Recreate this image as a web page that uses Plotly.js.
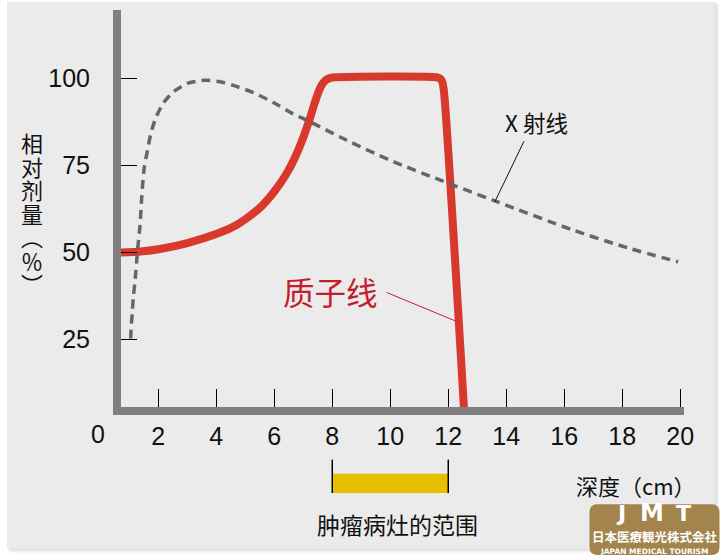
<!DOCTYPE html>
<html><head><meta charset="utf-8">
<script src="https://cdn.plot.ly/plotly-3.0.1.min.js"></script>
<style>html,body{margin:0;padding:0;background:#fff;}#chart{width:723px;height:557px;}</style>
</head><body><div id="chart"></div>
<script>
// ---- data ----
const xTickVals = [2, 4, 6, 8, 10, 12, 14, 16, 18, 20];
const yTickVals = [25, 50, 75, 100];
const xrayDepth = [1.05,1.06,1.10,1.14,1.20,1.29,1.37,1.43,1.52,1.63,1.74,1.91,2.17,2.54,3.03,3.61,4.13,4.64,5.3,6.0,6.6,7.23,8.5,9.99,11.71,13.61,16.31,18.2,19.93];
const xrayDose  = [25.3,27.7,32.5,37.2,42,51.1,57.8,66,74.6,79.4,84,88.5,92.8,96.2,98.6,99.4,99.0,97.8,95.8,92.9,90,87.5,82.2,76.5,70.8,64.8,56.4,51.3,47.3];
const protonDepth = [0.714,1.4,2.06,3.0,4.13,4.7,5.16,5.6,6.02,6.4,6.71,7.0,7.23,7.35,7.45,7.55,7.66,7.8,7.95,8.1,11.6,11.72,11.8,11.86,12.615];
const protonDose  = [50,50.3,51.0,52.7,55.7,57.9,60.5,63.6,67.7,72.3,77.2,83.0,88.5,91.8,94.3,96.6,98.4,99.6,100.1,100.3,100.3,99.9,98.8,95.5,-5];
const tumorRange = [8, 12];
const labelXray = 'X 射线';
const labelProton = '质子线';
const labelTumor = '肿瘤病灶的范围';
const xTitle = '深度（cm）';
const yTitle = '相对剂量（％）';

// ---- layout geometry (pixels) ----
const W = 723, H = 557;
const L = 121, R = 684, T = 10, B = 406.7;
const px = v => (v - L) / (R - L);
const py = v => (B - v) / (B - T);

const cjk = '"Noto Sans CJK SC", "Noto Sans", sans-serif';
const latin = '"Liberation Sans", Arial, sans-serif';

const traces = [
  {x: protonDepth, y: protonDose, type: 'scatter', mode: 'lines',
   line: {color: '#d9392d', width: 8, shape: 'spline', smoothing: 0.7}, hoverinfo: 'skip'},
  {x: xrayDepth, y: xrayDose, type: 'scatter', mode: 'lines',
   line: {color: '#666666', width: 3.5, dash: '9px,6px', shape: 'spline', smoothing: 0.8}, hoverinfo: 'skip'}
];

const ann = [];
function txt(text, xp, yp, size, color, family, extra) {
  ann.push(Object.assign({text: text, x: px(xp), y: py(yp), xref: 'paper', yref: 'paper',
    showarrow: false, xanchor: 'center', yanchor: 'middle',
    font: {size: size, color: color, family: family}}, extra || {}));
}
// "0" tick label
txt('0', 97.5, 434, 25, '#111', latin);
// y title (set to vertical writing after render)
txt(yTitle, 32, 215, 22, '#111', cjk);
// labels
txt(labelXray, 536, 122, 22.5, '#111', cjk);
txt(labelProton, 330, 291, 31.5, '#c41e2e', cjk);
txt(labelTumor, 397, 524, 23, '#111', cjk);
txt(xTitle, 636, 485, 22, '#111', cjk);
// logo text
const bold = (s, fam) => ({font: {size: s, color: '#fff', family: fam, weight: 'bold'}});
txt('J', 621, 513, 22, '#fff', '', bold(22, '"DejaVu Sans"'));
txt('M', 652, 513, 22, '#fff', '', bold(24, '"DejaVu Sans"'));
txt('T', 683, 513, 22, '#fff', '', bold(22, '"DejaVu Sans"'));
txt('日本医療観光株式会社', 655, 536.5, 12.5, '#fff', '', bold(12.5, '"Noto Sans CJK JP"'));
txt('JAPAN MEDICAL TOURISM', 654, 550.8, 7.5, '#fff', '', bold(7.5, '"DejaVu Sans"'));

// ---- shapes ----
function rrect(x0, y0, x1, y1, r) {
  const a = px(x0), b = px(x1), c = py(y0), d = py(y1);
  const rx = r / (R - L), ry = r / (B - T);
  return `M ${a+rx},${c} L ${b-rx},${c} Q ${b},${c} ${b},${c-ry} L ${b},${d+ry} Q ${b},${d} ${b-rx},${d} L ${a+rx},${d} Q ${a},${d} ${a},${d+ry} L ${a},${c-ry} Q ${a},${c} ${a+rx},${c} Z`;
}
const shapes = [
  // panel shadow + panel
  {type: 'rect', xref: 'paper', yref: 'paper', x0: px(9), x1: px(719), y0: py(4), y1: py(552), fillcolor: 'rgba(0,0,0,0.06)', line: {width: 0}, layer: 'below'},
  {type: 'rect', xref: 'paper', yref: 'paper', x0: px(8), x1: px(717), y0: py(3), y1: py(550), fillcolor: 'rgba(0,0,0,0.06)', line: {width: 0}, layer: 'below'},
  {type: 'rect', xref: 'paper', yref: 'paper', x0: px(7), x1: px(715), y0: py(2), y1: py(548), fillcolor: '#ebebeb', line: {width: 0}, layer: 'below'},
  // tumor bar
  {type: 'rect', xref: 'x', yref: 'paper', x0: tumorRange[0], x1: tumorRange[1], y0: py(473.3), y1: py(492.7), fillcolor: '#e6c000', line: {width: 0}},
  {type: 'line', xref: 'x', yref: 'paper', x0: tumorRange[0], x1: tumorRange[0], y0: py(459.3), y1: py(492.7), line: {color: '#000', width: 1.5}},
  {type: 'line', xref: 'x', yref: 'paper', x0: tumorRange[1], x1: tumorRange[1], y0: py(459.3), y1: py(492.7), line: {color: '#000', width: 1.5}},
  // leader lines
  {type: 'line', xref: 'x', yref: 'y', x0: 14.61, y0: 81.9, x1: 13.61, y1: 64.6, line: {color: '#111', width: 1}},
  {type: 'line', xref: 'x', yref: 'y', x0: 9.88, y0: 38.5, x1: 12.37, y1: 29.9, line: {color: '#c41e2e', width: 1}},
  // logo
  {type: 'path', xref: 'paper', yref: 'paper', path: rrect(589.5, 504, 719.5, 554.5, 8), fillcolor: '#a3844c', line: {width: 0}}
];

const axisCommon = {
  showgrid: false, zeroline: false, showline: true, linecolor: '#808080', linewidth: 8,
  ticks: 'inside', tickcolor: '#000', tickwidth: 1.2,
  tickfont: {size: 25, color: '#111', family: latin}, fixedrange: true
};

const layout = {
  width: W, height: H,
  margin: {l: L, r: W - R, t: T, b: H - B, pad: 0},
  paper_bgcolor: '#ffffff', plot_bgcolor: 'rgba(0,0,0,0)',
  showlegend: false,
  xaxis: Object.assign({}, axisCommon, {range: [0.714, 20.13], tickvals: xTickVals, ticklen: 18, ticklabelstandoff: 0}),
  yaxis: Object.assign({}, axisCommon, {range: [5.63, 119.6], tickvals: yTickVals, ticklen: 16, ticklabelstandoff: 18}),
  annotations: ann,
  shapes: shapes
};

Plotly.newPlot('chart', traces, layout, {staticPlot: true, displayModeBar: false}).then(function () {
  // stack the y-axis title vertically (upright CJK), centred at (32, 215)
  document.querySelectorAll('.annotation-text').forEach(function (el) {
    if (el.textContent !== yTitle) return;
    el.style.writingMode = 'vertical-rl';
    el.style.textOrientation = 'mixed';
    el.style.letterSpacing = '1.5px';
    el.setAttribute('text-anchor', 'middle');
    const r = el.getBoundingClientRect();
    const dx = 32 - (r.left + r.width / 2), dy = 215 - (r.top + r.height / 2);
    const t0 = el.getAttribute('transform') || '';
    el.setAttribute('transform', 'translate(' + dx + ',' + dy + ') ' + t0);
  });
});
</script>
</body></html>
